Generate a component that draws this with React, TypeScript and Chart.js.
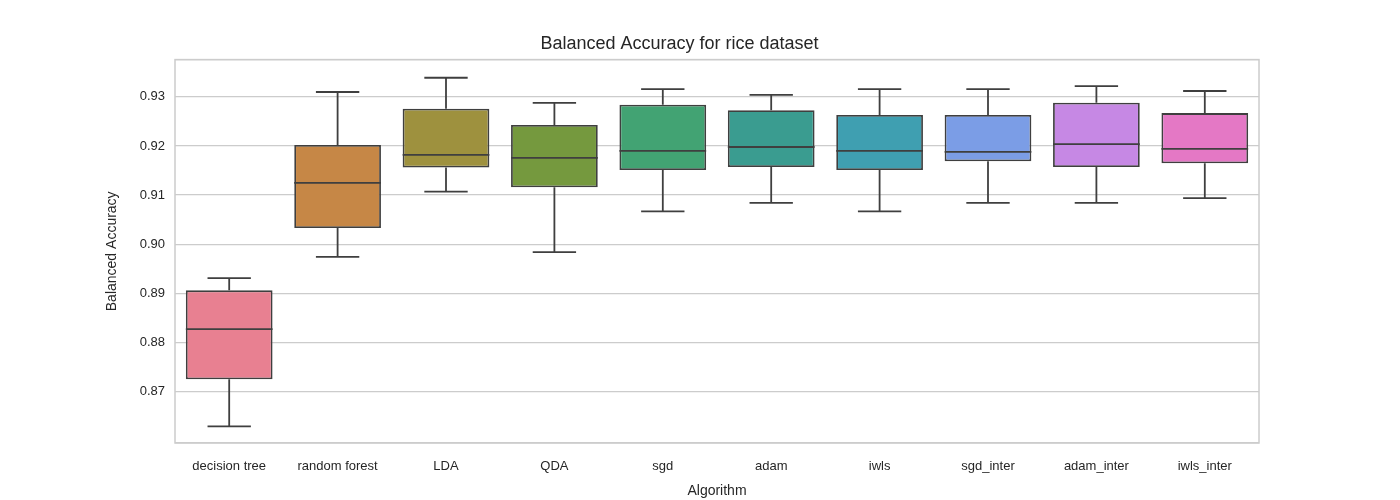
import { useEffect, useRef } from 'react';
import { Chart, registerables, Plugin } from 'chart.js';

Chart.register(...registerables);

const algorithms = ['decision tree', 'random forest', 'LDA', 'QDA', 'sgd', 'adam', 'iwls', 'sgd_inter', 'adam_inter', 'iwls_inter'];
const lowWhisker = [0.8629, 0.8974, 0.9107, 0.8984, 0.9067, 0.9084, 0.9067, 0.9084, 0.9084, 0.9094];
const q1 = [0.8725, 0.9033, 0.9156, 0.9116, 0.9151, 0.9157, 0.9151, 0.9169, 0.9157, 0.9165];
const medians = [0.8827, 0.9125, 0.9182, 0.9176, 0.9190, 0.9198, 0.9190, 0.9188, 0.9204, 0.9194];
const q3 = [0.8906, 0.9202, 0.9276, 0.9243, 0.9284, 0.9273, 0.9263, 0.9263, 0.9288, 0.9267];
const highWhisker = [0.8931, 0.9310, 0.9339, 0.9288, 0.9316, 0.9304, 0.9316, 0.9316, 0.9322, 0.9312];
const colors = ['#e88091', '#c68746', '#9e913e', '#75993e', '#42a373', '#3a9c90', '#3f9fb1', '#7b9de6', '#c688e4', '#e478c5'];

const FONT = "'Liberation Sans', Arial, sans-serif";
const LINE = '#3f3f3f';

const boxPlugin: Plugin = {
  id: 'boxExtras',
  beforeDatasetsDraw(chart) {
    const { ctx, chartArea } = chart;
    ctx.save();
    ctx.strokeStyle = '#cccccc';
    ctx.lineWidth = 1.5;
    ctx.strokeRect(chartArea.left, chartArea.top, chartArea.right - chartArea.left, chartArea.bottom - chartArea.top);
    ctx.restore();
  },
  afterDatasetsDraw(chart) {
    const { ctx } = chart;
    const x = chart.scales.x;
    const y = chart.scales.y;
    const meta = chart.getDatasetMeta(0);
    ctx.save();
    ctx.strokeStyle = LINE;
    ctx.lineWidth = 1.8;
    algorithms.forEach((_, i) => {
      const cx = x.getPixelForValue(i);
      const bar: any = meta.data[i];
      const half = bar.width / 2;
      const capHalf = half / 2;
      ctx.beginPath();
      ctx.moveTo(cx, y.getPixelForValue(q3[i]));
      ctx.lineTo(cx, y.getPixelForValue(highWhisker[i]));
      ctx.moveTo(cx - capHalf, y.getPixelForValue(highWhisker[i]));
      ctx.lineTo(cx + capHalf, y.getPixelForValue(highWhisker[i]));
      ctx.moveTo(cx, y.getPixelForValue(q1[i]));
      ctx.lineTo(cx, y.getPixelForValue(lowWhisker[i]));
      ctx.moveTo(cx - capHalf, y.getPixelForValue(lowWhisker[i]));
      ctx.lineTo(cx + capHalf, y.getPixelForValue(lowWhisker[i]));
      ctx.moveTo(cx - half, y.getPixelForValue(medians[i]));
      ctx.lineTo(cx + half, y.getPixelForValue(medians[i]));
      ctx.stroke();
    });
    ctx.restore();
  },
};

export default function App() {
  const canvasRef = useRef<HTMLCanvasElement>(null);

  useEffect(() => {
    if (!canvasRef.current) return;
    const chart = new Chart(canvasRef.current, {
      type: 'bar',
      data: {
        labels: algorithms,
        datasets: [
          {
            data: algorithms.map((_, i) => [q1[i], q3[i]]) as any,
            backgroundColor: colors,
            borderColor: LINE,
            borderWidth: 1.8,
            borderSkipped: false,
            barPercentage: 0.8,
            categoryPercentage: 1,
          },
        ],
      },
      options: {
        animation: false,
        responsive: false,
        layout: { padding: { left: 100, right: 141, top: 0, bottom: 0 } },
        plugins: {
          legend: { display: false },
          tooltip: { enabled: false },
          title: {
            display: true,
            text: 'Balanced Accuracy for rice dataset',
            color: '#262626',
            font: { family: FONT, size: 18, weight: 'normal' },
            padding: { top: 33, bottom: 5 },
          },
        },
        scales: {
          x: {
            grid: { display: false },
            border: { display: false },
            ticks: { color: '#262626', font: { family: FONT, size: 13 }, padding: 8 },
            title: { display: true, text: 'Algorithm', color: '#262626', font: { family: FONT, size: 14 }, padding: 0 },
            afterFit: (s: any) => { s.height = 57; },
          },
          y: {
            min: 0.8595,
            max: 0.9376,
            grid: { color: '#cccccc', lineWidth: 1.2, drawTicks: false },
            border: { display: false },
            ticks: {
              stepSize: 0.01,
              color: '#262626',
              font: { family: FONT, size: 13 },
              padding: 10,
              callback: (v: any) => (Math.abs(v * 100 - Math.round(v * 100)) < 1e-6 ? Number(v).toFixed(2) : ''),
            },
            title: { display: true, text: 'Balanced Accuracy', color: '#262626', font: { family: FONT, size: 14 }, padding: 4 },
            afterFit: (s: any) => { s.width = 75; },
          },
        },
      },
      plugins: [boxPlugin],
    });
    return () => chart.destroy();
  }, []);

  return (
    <div style={{ position: 'absolute', left: 0, top: 0, width: 1400, height: 500, background: '#fff' }}>
      <canvas ref={canvasRef} width={1400} height={500} />
    </div>
  );
}
